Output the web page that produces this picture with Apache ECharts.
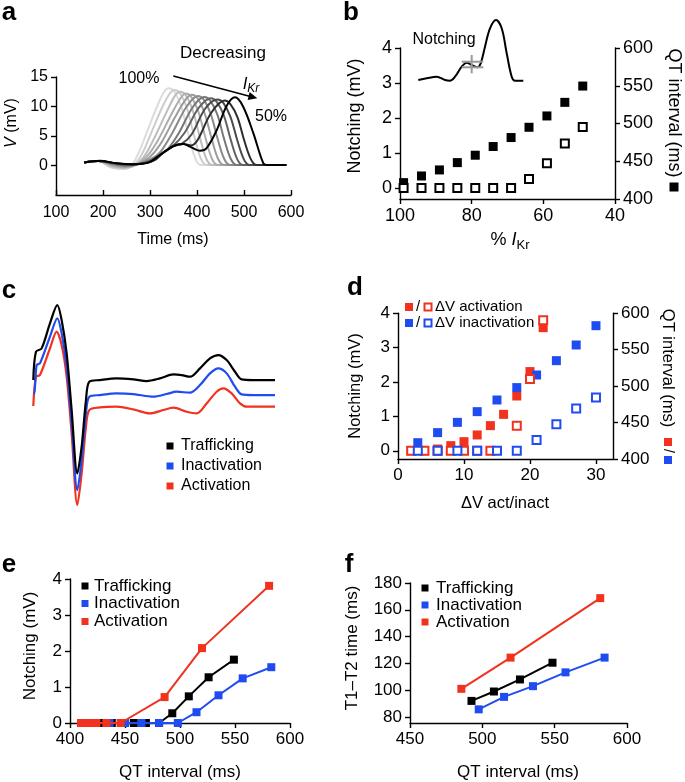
<!DOCTYPE html>
<html><head><meta charset="utf-8">
<script src="https://cdn.jsdelivr.net/npm/echarts@6/dist/echarts.min.js"></script>
<style>html,body{margin:0;padding:0;background:#fff}#c{width:685px;height:782px}</style>
</head><body><div id="c"></div>
<script>
// ---------- Panel a: simulated T waves, 100% -> 50% IKr (time ms, V mV) ----------
const aLabels = ['100%','95%','90%','85%','80%','75%','70%','65%','60%','55%','50%'];
const aColors = ['#dcdcdc','#cdcdcd','#bdbdbd','#adadad','#9c9c9c','#8a8a8a','#777777','#626262','#4a4a4a','#2e2e2e','#000000'];
const aWave100 = [[160,0.5],[190,0.75],[215,-0.3],[238,-0.6],[258,-0.2],[275,2.0],[295,6.0],[315,10.0],[330,12.5],[340,13.1],[352,12.5],[367,9.8],[382,5.2],[396,1.3],[408,0.1],[590,0.1]];
const aWave95 = [[160,0.5],[190,0.75],[216,-0.2],[240,-0.5],[263,-0.1],[282,1.8],[302,5.4],[325,9.7],[342,12.2],[352,12.8],[364,12.2],[379,9.6],[394,5.0],[408,1.2],[420,0.1],[590,0.1]];
const aWave90 = [[160,0.5],[190,0.75],[218,-0.1],[242,-0.4],[267,0.0],[288,1.6],[310,4.8],[335,9.0],[353,11.8],[364,12.5],[376,11.9],[391,9.3],[406,4.8],[420,1.1],[432,0.1],[590,0.1]];
const aWave85 = [[160,0.5],[190,0.75],[220,0.0],[245,-0.3],[270,0.1],[293,1.5],[317,4.3],[345,8.6],[365,11.4],[376,12.2],[388,11.6],[403,9.1],[418,4.7],[432,1.1],[444,0.1],[590,0.1]];
const aWave80 = [[160,0.5],[190,0.75],[222,0.1],[248,-0.2],[273,0.2],[298,1.3],[322,3.6],[352,8.0],[376,11.2],[389,12.0],[401,11.4],[416,8.9],[431,4.6],[445,1.1],[457,0.1],[590,0.1]];
const aWave75 = [[160,0.5],[190,0.75],[224,0.2],[250,-0.1],[276,0.3],[300,1.0],[322,2.3],[348,5.6],[378,10.0],[402,11.8],[414,11.2],[429,8.8],[444,4.5],[458,1.1],[470,0.1],[590,0.1]];
const aWave70 = [[160,0.5],[190,0.75],[226,0.25],[252,0.05],[278,0.3],[302,0.9],[325,2.1],[340,3.0],[362,5.6],[392,10.0],[416,11.6],[428,11.0],[443,8.7],[458,4.4],[472,1.1],[484,0.1],[590,0.1]];
const aWave65 = [[160,0.5],[190,0.75],[228,0.3],[255,0.1],[282,0.35],[304,0.8],[325,2.0],[350,3.4],[374,5.6],[404,9.8],[430,11.4],[442,10.8],[457,8.5],[472,4.3],[486,1.0],[498,0.1],[590,0.1]];
const aWave60 = [[160,0.5],[190,0.75],[229,0.35],[258,0.15],[284,0.35],[306,0.8],[323,1.9],[350,3.3],[368,3.7],[388,5.2],[418,9.7],[444,11.2],[456,10.6],[471,8.3],[486,4.2],[500,1.0],[512,0.1],[590,0.1]];
const aWave55 = [[160,0.5],[190,0.75],[229,0.37],[262,0.2],[290,0.4],[310,0.9],[323,1.8],[350,3.3],[371,3.65],[388,3.4],[402,4.4],[430,8.9],[459,11.0],[471,10.4],[486,8.2],[501,4.1],[515,1.0],[527,0.1],[590,0.1]];
const aWave50 = [[160,0.5],[193,0.8],[229,0.37],[264,0.2],[296,0.48],[321,1.78],[350,3.3],[371,3.64],[385,3.2],[406,2.5],[420,2.9],[442,6.0],[463,10.1],[481,11.55],[498,10.0],[520,5.45],[541,0.4],[550,0.1],[590,0.1]];
const aWaves = [aWave100,aWave95,aWave90,aWave85,aWave80,aWave75,aWave70,aWave65,aWave60,aWave55,aWave50];
const aXTicks = [100,200,300,400,500,600];
const aYTicks = [0,5,10,15];

// ---------- Panel b ----------
const bPctIKr = [99,94,89,84,79,74,69,64,59,54,49];
const bQT = [421.7,430.5,438.5,448.2,458,469.5,481.4,495,510,528,549.6];
const bNotch = [0,0,0,0,0,0,0,0.26,0.71,1.27,1.74];
const bLeftTicks = [0,1,2,3,4];
// inset schematic (relative units)
const bInsetTrace = [[0.3,2],[8.7,3.7],[18.7,5.3],[27,2],[32,1.3],[37,5.3],[43.7,15.3],[48.7,19.3],[53.7,17],[59.3,14.7],[62.7,18.7],[67,35.3],[72,53.7],[78,62],[83.7,53.7],[88.7,28.7],[93.7,5.3],[97,1.3],[105.3,1.3]];
const bInsetMarkA = [[43.7,20.3],[65.3,20.3]];
const bInsetMarkB = [[43.7,14.7],[65.3,14.7]];
const bInsetMarkC = [[53.7,8.7],[53.7,27]];

// ---------- Panel c: ECG traces (ms, mV, offsets as drawn) ----------
const cTrafficking = [[0,0],[6.4,0.85],[20,0.95],[40,1.7],[57.6,2.25],[68,1.8],[80,0.8],[92,-0.9],[105.6,-2.8],[116,-2.0],[126.4,-0.6],[134.4,-0.05],[160,0],[200,0.05],[240,0.02],[272,-0.03],[304,0.05],[336,0.17],[356,0.15],[376,0.1],[400,0.35],[424,0.65],[444,0.75],[464,0.6],[484,0.25],[500,0.02],[528,0],[580,0]];
const cInactivation = [[0,-0.4],[2.4,-0.4],[8,0.45],[16,0.5],[40,1.3],[57.6,1.85],[68,1.4],[80,0.4],[92,-1.3],[105.6,-3.3],[116,-2.4],[126.4,-1.0],[134.4,-0.5],[160,-0.45],[200,-0.4],[240,-0.42],[288,-0.5],[320,-0.42],[344,-0.35],[376,-0.38],[400,-0.15],[424,0.2],[444,0.35],[464,0.2],[484,-0.2],[500,-0.43],[528,-0.45],[580,-0.45]];
const cActivation = [[0,-0.78],[6.4,0.1],[16,0.15],[40,0.95],[56,1.45],[68,1.05],[80,0.1],[92,-1.6],[105.6,-3.75],[116,-2.8],[126.4,-1.4],[134.4,-0.9],[160,-0.82],[200,-0.8],[240,-0.88],[280,-1.0],[312,-0.9],[336,-0.83],[368,-0.95],[392,-1.0],[416,-0.7],[440,-0.35],[456,-0.25],[476,-0.4],[496,-0.7],[512,-0.8],[580,-0.8]];

// ---------- Panel d ----------
const dActDV = [2,4,6,8,10,12,14,16,18,20,22];
const dActQT = [411.4,411.4,413.7,418.3,423.8,433,445.8,461.3,486.5,520,580.3];
const dActNotchDV = [2,4,6,8,10,12,14,18,20,22];
const dActNotch = [0,0,0,0,0,0,0,0.73,2.09,3.8];
const dInaDV = [3,6,9,12,15,18,21,24,27,30];
const dInaQT = [422.4,436.2,450.3,465,481,498,515.3,535,556.5,583];
const dInaNotch = [0,0,0,0,0,0,0.31,0.77,1.23,1.55];
const dXTicks = [0,10,20,30];

// ---------- Panel e ----------
const eTrafQT = [422,430,438,448,458,469,481,493,508,526,549];
const eTrafNotch = [0,0,0,0,0,0,0,0.27,0.74,1.27,1.76];
const eInaQT = [422,436,450,465,481,498,515,535,557,583];
const eInaNotch = [0,0,0,0,0,0,0.3,0.77,1.24,1.55];
const eActQT = [410,412,414,418,424,433,446,486,520,581];
const eActNotch = [0,0,0,0,0,0,0,0.72,2.08,3.81];

// ---------- Panel f ----------
const fTrafQT = [492.5,508,526,548.5];
const fTrafT = [92,99,108,120.5];
const fInaQT = [497.5,515,535,557.5,584.5];
const fInaT = [85.7,95,103,113.3,124.3];
const fActQT = [485.5,519.5,581.5];
const fActT = [101,124.3,168.7];
const fYTicks = [80,100,120,140,160,180];

const seriesNames = ['Trafficking','Inactivation','Activation'];
const BLACK = '#000000', BLUE = '#1f4cf0', RED = '#f0321e';
const FONT = '"Liberation Sans", Arial, sans-serif';

function pairs(xs, ys){ return xs.map((x,i)=>[x, ys[i]]); }

function axis(o){
  const fs = o.fs || 16;
  const a = {
    type:'value', gridIndex:o.g, min:o.min, max:o.max, position:o.pos, inverse:!!o.inverse,
    axisLine:{show:true,onZero:false,lineStyle:{color:'#000',width:1.4}},
    axisTick:{show:true,inside:!!o.inside,length:5,lineStyle:{color:'#000',width:1.4}},
    axisLabel:{color:'#000',fontSize:fs,fontFamily:FONT,margin:o.margin||8},
    splitLine:{show:false}
  };
  if (o.interval) a.interval = o.interval;
  if (o.custom){ a.axisTick.customValues = o.custom; a.axisLabel.customValues = o.custom; }
  return a;
}
function hidden(g,min,max){ return {type:'value',gridIndex:g,min:min,max:max,show:false,splitLine:{show:false}}; }

const grids = [
  {left:56, top:77, width:235, height:118},   // a
  {left:400, top:48, width:215, height:151},  // b
  {left:418, top:18, width:106, height:64},   // b inset
  {left:33.3, top:296.7, width:241.7, height:216.7}, // c
  {left:398, top:313.3, width:215, height:145.7}, // d
  {left:70, top:579, width:220, height:144},  // e
  {left:410, top:583, width:217, height:140}  // f
];

const xAxes = [
  axis({g:0,min:100,max:600,interval:100,inside:true,fs:16,margin:10}),
  axis({g:1,min:40,max:100,interval:20,inverse:true,fs:18,margin:8}),
  hidden(2,0,106),
  hidden(3,0,580),
  axis({g:4,min:0,max:32.58,custom:dXTicks,fs:17,margin:8}),
  axis({g:5,min:400,max:600,interval:50,fs:17,margin:8}),
  axis({g:6,min:450,max:600,interval:50,fs:17,margin:8})
];
const yAxes = [
  axis({g:0,min:-5,max:15,custom:aYTicks,fs:16,margin:8}),
  axis({g:1,min:-0.3143,max:4,custom:bLeftTicks,fs:18,margin:8,pos:'left'}),
  axis({g:1,min:400,max:600,interval:50,fs:18,margin:8,pos:'right'}),
  hidden(2,0,64),
  hidden(3,-4,2.5),
  axis({g:4,min:-0.24,max:4,custom:bLeftTicks,fs:17,margin:8,pos:'left'}),
  axis({g:4,min:400,max:600,interval:50,fs:17,margin:8,pos:'right'}),
  axis({g:5,min:0,max:4,interval:1,fs:17,margin:8}),
  axis({g:6,min:75.5,max:180,custom:fYTicks,fs:17,margin:8})
];

const series = [];
// a
aWaves.forEach((w,k)=>{
  series.push({type:'line',name:aLabels[k],xAxisIndex:0,yAxisIndex:0,data:w,showSymbol:false,smooth:0.35,
    lineStyle:{width:2,color:aColors[k]},itemStyle:{color:aColors[k]},silent:true,z:2+k});
});
// b
series.push({type:'scatter',xAxisIndex:1,yAxisIndex:2,data:pairs(bPctIKr,bQT),symbol:'rect',symbolSize:9,itemStyle:{color:'#000',opacity:1},silent:true});
series.push({type:'scatter',xAxisIndex:1,yAxisIndex:1,data:pairs(bPctIKr,bNotch),symbol:'rect',symbolSize:8,itemStyle:{color:'#fff',borderColor:'#000',borderWidth:2,opacity:1},silent:true,z:3});
series.push({type:'line',xAxisIndex:2,yAxisIndex:3,data:bInsetTrace,showSymbol:false,smooth:0.35,lineStyle:{width:2,color:'#000'},silent:true,z:4});
[bInsetMarkA,bInsetMarkB,bInsetMarkC].forEach(m=>series.push({type:'line',xAxisIndex:2,yAxisIndex:3,data:m,showSymbol:false,lineStyle:{width:2,color:'#9a9a9a'},silent:true,z:5}));
// c
[[cTrafficking,BLACK,6],[cInactivation,BLUE,5],[cActivation,RED,4]].forEach(([d,c,z])=>{
  series.push({type:'line',xAxisIndex:3,yAxisIndex:4,data:d,showSymbol:false,smooth:0.3,lineStyle:{width:2.2,color:c},silent:true,z:z});
});
// d
series.push({type:'scatter',xAxisIndex:4,yAxisIndex:6,data:pairs(dActDV,dActQT),symbol:'rect',symbolSize:9,itemStyle:{color:RED,opacity:1},silent:true,z:2});
series.push({type:'scatter',xAxisIndex:4,yAxisIndex:6,data:pairs(dInaDV,dInaQT),symbol:'rect',symbolSize:9,itemStyle:{color:BLUE,opacity:1},silent:true,z:2});
series.push({type:'scatter',xAxisIndex:4,yAxisIndex:5,data:pairs(dActNotchDV,dActNotch),symbol:'rect',symbolSize:8,itemStyle:{color:'#fff',borderColor:RED,borderWidth:2,opacity:1},silent:true,z:3});
series.push({type:'scatter',xAxisIndex:4,yAxisIndex:5,data:pairs(dInaDV,dInaNotch),symbol:'rect',symbolSize:8,itemStyle:{color:'#fff',borderColor:BLUE,borderWidth:2,opacity:1},silent:true,z:4});
// e
[[eTrafQT,eTrafNotch,BLACK,3],[eInaQT,eInaNotch,BLUE,4],[eActQT,eActNotch,RED,5]].forEach(([x,y,c,z])=>{
  series.push({type:'line',xAxisIndex:5,yAxisIndex:7,data:pairs(x,y),symbol:'rect',symbolSize:8,showSymbol:true,lineStyle:{width:2,color:c},itemStyle:{color:c},silent:true,z:z});
});
// f
[[fTrafQT,fTrafT,BLACK,3],[fInaQT,fInaT,BLUE,4],[fActQT,fActT,RED,5]].forEach(([x,y,c,z])=>{
  series.push({type:'line',xAxisIndex:6,yAxisIndex:8,data:pairs(x,y),symbol:'rect',symbolSize:8,showSymbol:true,lineStyle:{width:2,color:c},itemStyle:{color:c},silent:true,z:z});
});

// ---------- text & legends ----------
const G = [];
function txt(text,x,y,o){
  o = o||{};
  G.push({type:'text',x:x,y:y,rotation:o.rot||0,silent:true,z:100,
    style:{text:text,fill:'#000',fontFamily:FONT,fontSize:o.fs||16,fontWeight:o.fw||'normal',fontStyle:o.it?'italic':'normal',
      align:o.align||'center',verticalAlign:o.va||'middle',rich:o.rich}});
}
function sq(x,y,c,s,hollow){
  s = s||7;
  G.push({type:'rect',silent:true,z:100,shape:{x:x-s/2,y:y-s/2,width:s,height:s},
    style: hollow?{fill:'#fff',stroke:c,lineWidth:2}:{fill:c}});
}
const R90 = Math.PI/2;
// panel letters
txt('a',9,13,{fs:26,fw:'bold'}); txt('b',351,13,{fs:26,fw:'bold'});
txt('c',9,291,{fs:26,fw:'bold'}); txt('d',355,288,{fs:26,fw:'bold'});
txt('e',9,565,{fs:26,fw:'bold'}); txt('f',349,565,{fs:26,fw:'bold'});
// a
txt('{i|V} (mV)',12,123,{rot:R90,fs:16,rich:{i:{fontStyle:'italic',fontSize:16,fontFamily:FONT}}});
txt('Time (ms)',173,240,{fs:16});
txt('Decreasing',223,53,{fs:17});
txt('100%',139,79,{fs:16});
txt('{i|I}{s|Kr}',251,84,{fs:17,rich:{i:{fontStyle:'italic',fontSize:17,fontFamily:FONT},s:{fontStyle:'italic',fontSize:12,fontFamily:FONT,padding:[10,0,0,0]}}});
txt('50%',271,117,{fs:16});
G.push({type:'line',silent:true,z:100,shape:{x1:173.3,y1:76,x2:249.5,y2:96.2},style:{stroke:'#000',lineWidth:1.6}});
G.push({type:'polygon',silent:true,z:100,shape:{points:[[257.3,98.3],[247.6,99.9],[249.6,92.1]]},style:{fill:'#000'}});
// b
txt('Notching (mV)',355,116,{rot:R90,fs:18});
txt('QT interval (ms)',674,113,{rot:-R90,fs:18});
sq(674,187,'#000',9);
txt('{a|% }{i|I}{s|Kr}',510,240,{rich:{a:{fontSize:18,fontFamily:FONT},i:{fontStyle:'italic',fontSize:18,fontFamily:FONT},s:{fontSize:13,fontFamily:FONT,padding:[10,0,0,0]}}});
txt('Notching',444,40,{fs:16});
// c legend
[['Trafficking',BLACK,446],['Inactivation',BLUE,466],['Activation',RED,486]].forEach(([t,c,y])=>{ sq(170,y,c,7); txt(t,181,y,{fs:16,align:'left'}); });
// d
txt('Notching (mV)',355,386,{rot:R90,fs:16.5});
txt('QT interval (ms)',668,368,{rot:-R90,fs:16.5});
sq(668,442,RED,8); txt('/',668,451,{rot:-R90,fs:14}); sq(668,460,BLUE,8);
txt('ΔV act/inact',505,503,{fs:16.5});
sq(409,307,RED,8); txt('/',418,307,{fs:15}); sq(428,307,RED,7,true); txt('ΔV activation',435,307,{fs:15,align:'left'});
sq(409,323,BLUE,8); txt('/',418,323,{fs:15}); sq(428,323,BLUE,7,true); txt('ΔV inactivation',435,323,{fs:15,align:'left'});
// e
txt('Notching (mV)',30,646,{rot:R90,fs:17});
txt('QT interval (ms)',180,772,{fs:17});
[['Trafficking',BLACK,586],['Inactivation',BLUE,603.5],['Activation',RED,621.5]].forEach(([t,c,y])=>{ sq(85,y,c,7); txt(t,94,y,{fs:17,align:'left'}); });
// f
txt('T1–T2 time (ms)',352,648,{rot:R90,fs:17});
txt('QT interval (ms)',518,772,{fs:17});
[['Trafficking',BLACK,588],['Inactivation',BLUE,605],['Activation',RED,622]].forEach(([t,c,y])=>{ sq(425,y,c,7); txt(t,436,y,{fs:17,align:'left'}); });

const chart = echarts.init(document.getElementById('c'), null, {renderer:'canvas'});
chart.setOption({
  animation:false, backgroundColor:'#fff',
  textStyle:{fontFamily:FONT},
  grid:grids, xAxis:xAxes, yAxis:yAxes, series:series, graphic:G
});
</script></body></html>
